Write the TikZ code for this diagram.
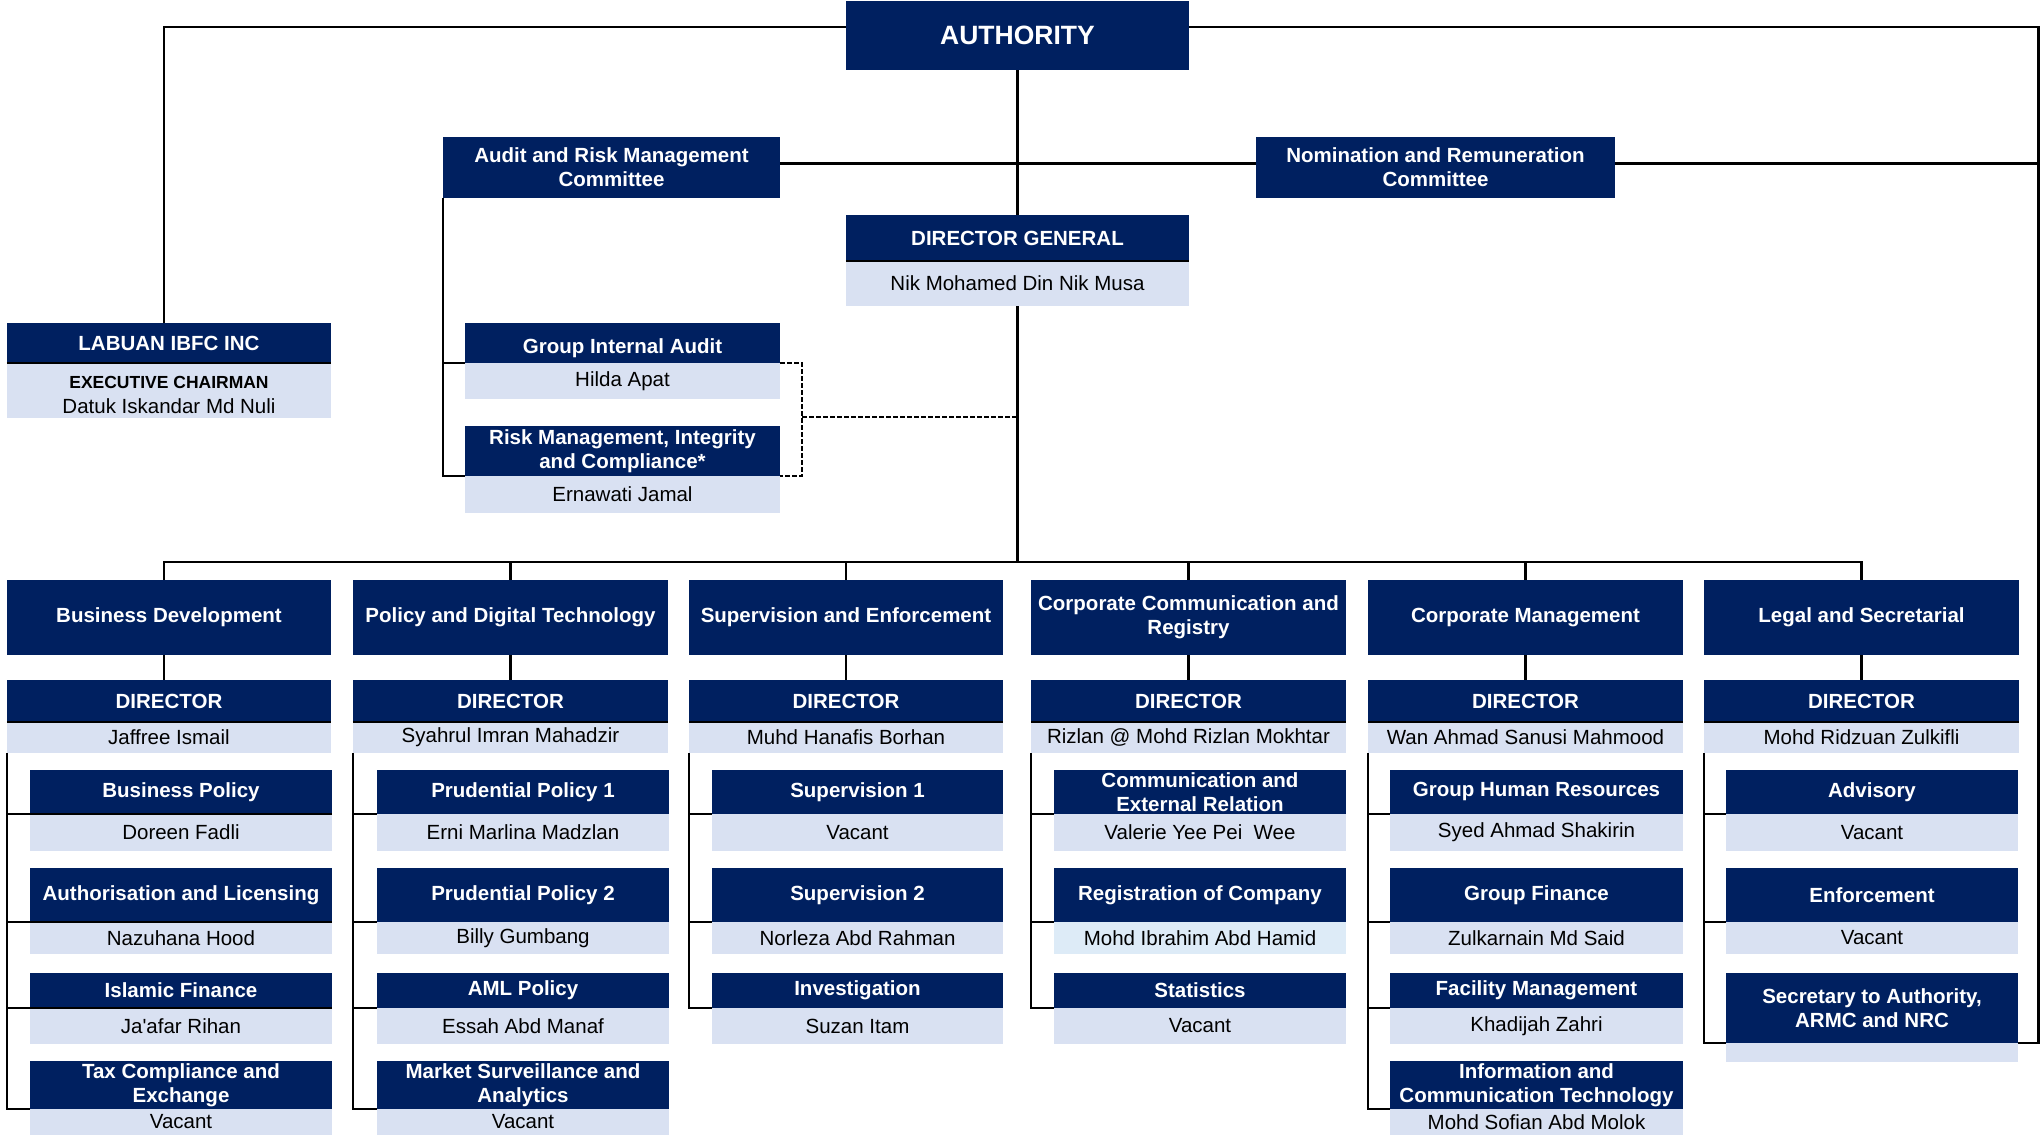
\documentclass[tikz,border=0pt]{standalone}
\usepackage{fontspec}
\setmainfont{Liberation Sans}
\definecolor{navy}{HTML}{002060}
\definecolor{pale}{HTML}{D9E1F2}
\definecolor{paleb}{HTML}{DDEBF7}
\tikzset{
  hdr/.style={fill=navy,text=white,font=\fontsize{20.5}{24}\selectfont\bfseries,inner sep=0pt,align=center},
  lt/.style={fill=pale,text=black,font=\fontsize{20.5}{24}\selectfont,inner sep=0pt,align=center},
  conn/.style={line width=2.4pt,black},
  dsh/.style={line width=2pt,black,dash pattern=on 5pt off 2pt},
  sepline/.style={line width=2.4pt,black}
}
% name, x1, y1, x2, y2, text, style
\newcommand\mkbox[7]{\node[#7,minimum width={(#4-#2)*1pt},minimum height={(#5-#3)*1pt}] (#1) at ({(#2+#4)/2},{(#3+#5)/2}) {#6};}
% prefix, x1, x2, y1, ymid, y2, head, person
\newcommand\mkpair[8]{\mkbox{#1h}{#2}{#4}{#3}{#5}{#7}{hdr}\mkbox{#1l}{#2}{#5}{#3}{#6}{#8}{lt}}
\begin{document}
\begin{tikzpicture}[x=1pt,y=-1pt]
\fill[white] (0,0) rectangle (2040,1135);
\useasboundingbox (0,0) rectangle (2040,1135);

% ---------- upper part ----------
\mkbox{auth}{846}{1}{1189}{70}{\fontsize{26.5}{28}\selectfont AUTHORITY}{hdr}
\mkbox{lab}{7}{323}{331}{363}{LABUAN IBFC INC}{hdr}
\mkbox{labl}{7}{363}{331}{418}{{\fontsize{17.5}{21}\selectfont\bfseries\rule{0pt}{21pt}EXECUTIVE CHAIRMAN}\\[1pt]Datuk Iskandar Md Nuli}{lt}
\mkbox{armc}{443}{137}{780}{197.5}{Audit and Risk Management\\Committee}{hdr}
\mkbox{nrc}{1256}{137}{1615}{197.5}{Nomination and Remuneration\\Committee}{hdr}
\mkpair{dg}{846}{1189}{215}{261}{306}{DIRECTOR GENERAL}{Nik Mohamed Din Nik Musa}
\mkpair{gia}{465}{780}{323}{363}{399}{\rule{0pt}{25pt}Group Internal Audit}{Hilda Apat}
\mkpair{rm}{465}{780}{426}{476}{513}{Risk Management, Integrity\\and Compliance*}{Ernawati Jamal}

% ---------- departments ----------
\mkbox{dep1}{7}{580}{331}{655}{Business Development}{hdr}
\mkbox{dep2}{353}{580}{668}{655}{Policy and Digital Technology}{hdr}
\mkbox{dep3}{689}{580}{1003}{655}{Supervision and Enforcement}{hdr}
\mkbox{dep4}{1031}{580}{1346}{655}{Corporate Communication and\\Registry}{hdr}
\mkbox{dep5}{1368}{580}{1683}{655}{Corporate Management}{hdr}
\mkbox{dep6}{1704}{580}{2019}{655}{Legal and Secretarial}{hdr}

% ---------- directors ----------
\mkpair{d1}{7}{331}{680}{722}{753}{DIRECTOR}{Jaffree Ismail}
\mkpair{d2}{353}{668}{680}{722}{753}{DIRECTOR}{Syahrul Imran Mahadzir}
\mkpair{d3}{689}{1003}{680}{722}{753}{DIRECTOR}{Muhd Hanafis Borhan}
\mkpair{d4}{1031}{1346}{680}{722}{753}{DIRECTOR}{Rizlan @ Mohd Rizlan Mokhtar}
\mkpair{d5}{1368}{1683}{680}{722}{753}{DIRECTOR}{Wan Ahmad Sanusi Mahmood}
\mkpair{d6}{1704}{2019}{680}{722}{753}{DIRECTOR}{Mohd Ridzuan Zulkifli}

% ---------- column 1 ----------
\mkpair{s11}{30}{332}{770}{813.5}{851}{Business Policy}{Doreen Fadli}
\mkpair{s12}{30}{332}{868}{922}{954}{Authorisation and Licensing}{Nazuhana Hood}
\mkpair{s13}{30}{332}{973}{1008}{1044}{Islamic Finance}{Ja\textquotesingle afar Rihan}
\mkpair{s14}{30}{332}{1061}{1109}{1135}{Tax Compliance and\\Exchange}{Vacant}
% ---------- column 2 ----------
\mkpair{s21}{377}{669}{770}{813.5}{851}{Prudential Policy 1}{Erni Marlina Madzlan}
\mkpair{s22}{377}{669}{868}{922}{954}{Prudential Policy 2}{Billy Gumbang}
\mkpair{s23}{377}{669}{973}{1008}{1044}{AML Policy}{Essah Abd Manaf}
\mkpair{s24}{377}{669}{1061}{1109}{1135}{Market Surveillance and\\Analytics}{Vacant}
% ---------- column 3 ----------
\mkpair{s31}{712}{1003}{770}{813.5}{851}{Supervision 1}{Vacant}
\mkpair{s32}{712}{1003}{868}{922}{954}{Supervision 2}{Norleza Abd Rahman}
\mkpair{s33}{712}{1003}{973}{1008}{1044}{Investigation}{Suzan Itam}
% ---------- column 4 ----------
\mkpair{s41}{1054}{1346}{770}{813.5}{851}{Communication and\\External Relation}{Valerie Yee Pei\ \ Wee}
\mkbox{s42h}{1054}{868}{1346}{922}{Registration of Company}{hdr}
\mkbox{s42l}{1054}{922}{1346}{954}{Mohd Ibrahim Abd Hamid}{lt,fill=paleb}
\mkpair{s43}{1054}{1346}{973}{1008}{1044}{Statistics}{Vacant}
% ---------- column 5 ----------
\mkpair{s51}{1390}{1683}{770}{813.5}{851}{Group Human Resources}{Syed Ahmad Shakirin}
\mkpair{s52}{1390}{1683}{868}{922}{954}{Group Finance}{Zulkarnain Md Said}
\mkpair{s53}{1390}{1683}{973}{1008}{1044}{Facility Management}{Khadijah Zahri}
\mkpair{s54}{1390}{1683}{1061}{1109}{1135}{Information and\\Communication Technology}{Mohd Sofian Abd Molok}
% ---------- column 6 ----------
\mkpair{s61}{1726}{2018}{770}{813.5}{851}{Advisory}{Vacant}
\mkpair{s62}{1726}{2018}{868}{922}{954}{Enforcement}{Vacant}
\mkpair{sec}{1726}{2018}{973}{1043}{1062}{Secretary to Authority,\\ARMC and NRC}{}

% ---------- separators under headers ----------
\draw[sepline] (lab.south west) -- (lab.south east);
\foreach \n in {dgh,d1h,d2h,d3h,d4h,d5h,d6h,s11h,s12h,s13h}
  \draw[sepline] (\n.south west) -- (\n.south east);

% ---------- connectors ----------
\coordinate (tl) at (164,27);
\coordinate (tr) at (2038.5,27);
\coordinate (cm) at (1017.5,163.5);
\coordinate (c1) at (164,562);
\coordinate (dk) at (802,416.5);

\draw[conn] (auth.west |- tl) -- (tl) -- (tl |- lab.north);
\draw[conn] (auth.east |- tr) -- (tr) -- (tr |- sech.south) -- (sech.south east);
\draw[conn] (armc.east |- cm) -- (nrc.west |- cm);
\draw[conn] (nrc.east |- cm) -- (tr |- cm);
\draw[conn] (auth.south) -- (dgh.north);
\draw[conn] (dgl.south) -- (dgl.south |- c1);
\draw[conn] (armc.south west) |- (rmh.south west);
\draw[conn] (armc.south west |- giah.south) -- (giah.south west);
\draw[dsh] (giah.south east) -| (dk) |- (rmh.south east);
\draw[dsh] (dk) -- (dk -| dgl.south);

% bus
\draw[conn] (c1 |- dep1.north) -- (c1) -- (dep6.north |- c1) -- (dep6.north);
\foreach \k in {2,3,4,5}
  \draw[conn] (dep\k.north |- c1) -- (dep\k.north);
\draw[conn] (c1 |- dep1.south) -- (c1 |- d1h.north);
\foreach \k in {2,...,6}
  \draw[conn] (dep\k.south) -- (d\k h.north);

% column trunks
\draw[conn] (d1l.south west) |- (s14h.south west);
\draw[conn] (d2l.south west) |- (s24h.south west);
\draw[conn] (d3l.south west) |- (s33h.south west);
\draw[conn] (d4l.south west) |- (s43h.south west);
\draw[conn] (d5l.south west) |- (s54h.south west);
\draw[conn] (d6l.south west) |- (sech.south west);
\foreach \k/\r in {1/1,1/2,1/3,2/1,2/2,2/3,3/1,3/2,4/1,4/2,5/1,5/2,5/3,6/1,6/2}
  \draw[conn] (d\k l.south west |- s\k\r h.south) -- (s\k\r h.south west);
\end{tikzpicture}
\end{document}
